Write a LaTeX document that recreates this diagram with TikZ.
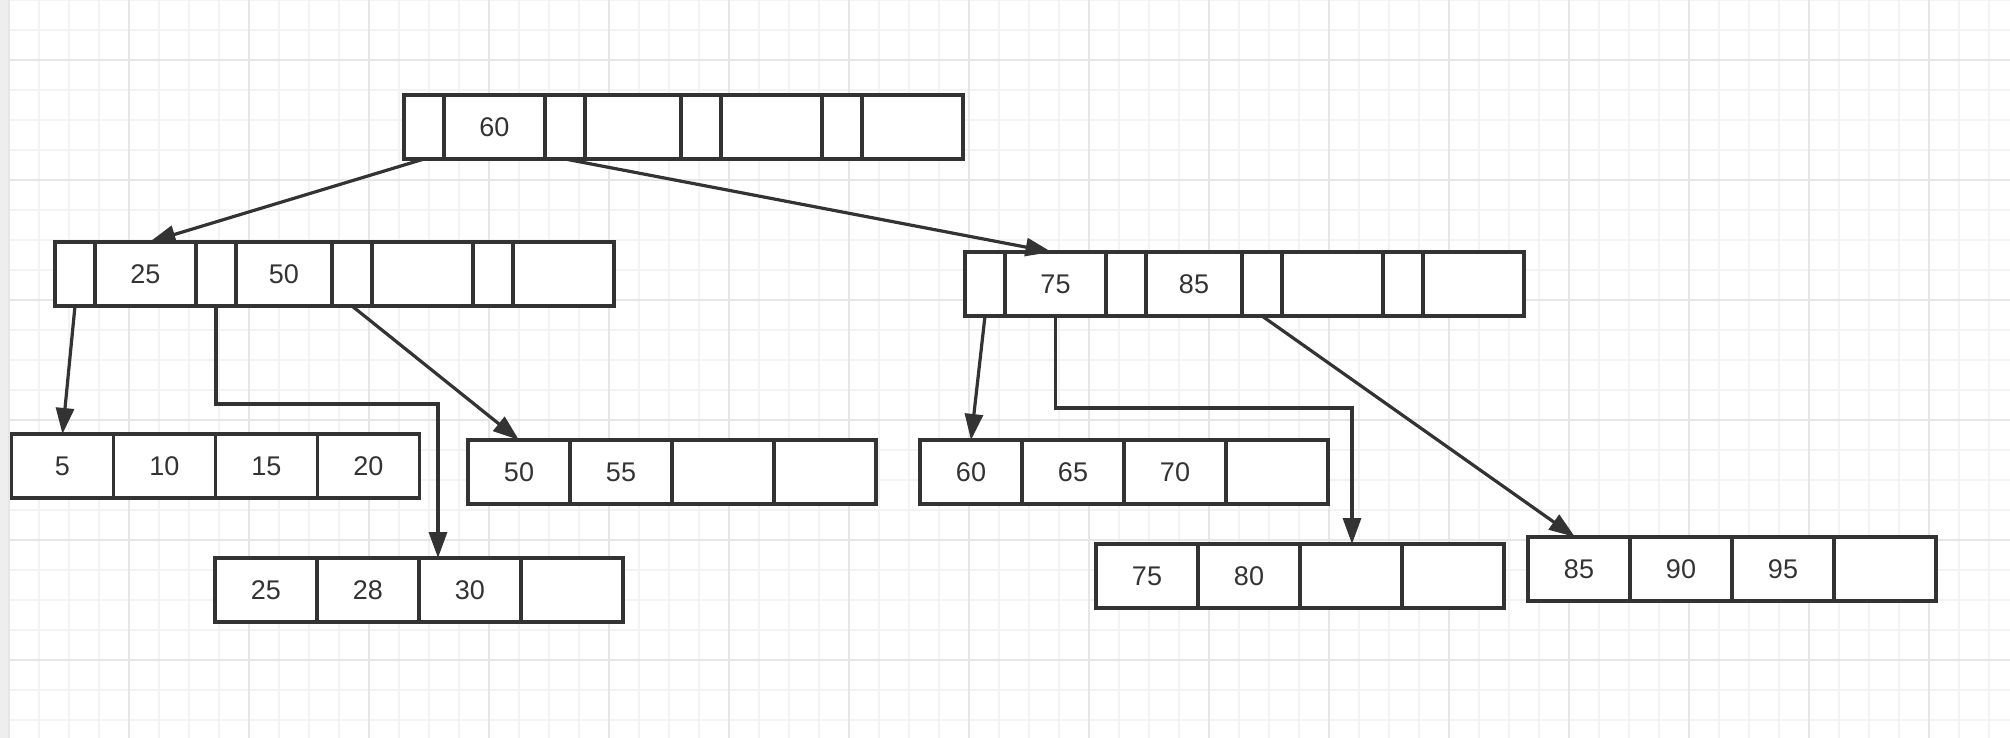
\documentclass[tikz,border=0pt]{standalone}
\usepackage{fontspec}
\setmainfont{Liberation Sans}
\usetikzlibrary{arrows.meta,positioning}

\definecolor{ink}{HTML}{333333}
\definecolor{gridminor}{HTML}{F3F3F3}
\definecolor{gridmajor}{HTML}{E6E6E6}
\definecolor{strip}{HTML}{EEEEEE}

\begin{document}
\begin{tikzpicture}[x=0.5pt,y=-0.5pt]

	\tikzstyle{cell}=[rectangle,draw=ink,line width=1.6pt,fill=white,
		minimum height=32pt,inner sep=0pt,outer sep=0pt,
		text=ink,font=\fontsize{13.5}{15}\selectfont]
	\tikzstyle{ptr}=[cell,minimum width=20pt]
	\tikzstyle{key}=[cell,minimum width=50.5pt]
	\tikzstyle{narrowkey}=[cell,minimum width=48pt]
	\tikzstyle{leaf}=[cell,minimum width=51pt]
	\tikzstyle{arrow}=[-{Triangle[length=13pt,width=9pt]},line width=1.6pt,draw=ink]

	\useasboundingbox (0,0) rectangle (2010,738);
	\fill[white] (0,0) rectangle (2010,738);
	\fill[strip] (0,0) rectangle (8,738);
	\foreach \x in {9,39,...,2009} \draw[gridminor,line width=1pt] (\x,0) -- (\x,738);
	\foreach \y in {0,30,...,737} \draw[gridminor,line width=1pt] (9,\y) -- (2010,\y);
	\foreach \x in {9,129,...,2009} \draw[gridmajor,line width=1pt] (\x,0) -- (\x,738);
	\foreach \y in {60,180,...,737} \draw[gridmajor,line width=1pt] (9,\y) -- (2010,\y);

	\node[ptr] (root1) at (424,127) {};
	\node[key,right=0pt of root1] (root2) {60};
	\node[ptr,right=0pt of root2] (root3) {};
	\node[narrowkey,right=0pt of root3] (root4) {};
	\node[ptr,right=0pt of root4] (root5) {};
	\node[key,right=0pt of root5] (root6) {};
	\node[ptr,right=0pt of root6] (root7) {};
	\node[key,right=0pt of root7] (root8) {};

	\node[ptr] (lft1) at (75,274) {};
	\node[key,right=0pt of lft1] (lft2) {25};
	\node[ptr,right=0pt of lft2] (lft3) {};
	\node[narrowkey,right=0pt of lft3] (lft4) {50};
	\node[ptr,right=0pt of lft4] (lft5) {};
	\node[key,right=0pt of lft5] (lft6) {};
	\node[ptr,right=0pt of lft6] (lft7) {};
	\node[key,right=0pt of lft7] (lft8) {};

	\node[ptr] (rgt1) at (985,284) {};
	\node[key,right=0pt of rgt1] (rgt2) {75};
	\node[ptr,right=0pt of rgt2] (rgt3) {};
	\node[narrowkey,right=0pt of rgt3] (rgt4) {85};
	\node[ptr,right=0pt of rgt4] (rgt5) {};
	\node[key,right=0pt of rgt5] (rgt6) {};
	\node[ptr,right=0pt of rgt6] (rgt7) {};
	\node[key,right=0pt of rgt7] (rgt8) {};

	\node[leaf] (leafa1) at (62.5,466) {5};
	\node[leaf,right=0pt of leafa1] (leafa2) {10};
	\node[leaf,right=0pt of leafa2] (leafa3) {15};
	\node[leaf,right=0pt of leafa3] (leafa4) {20};

	\node[leaf] (leafb1) at (519,472) {50};
	\node[leaf,right=0pt of leafb1] (leafb2) {55};
	\node[leaf,right=0pt of leafb2] (leafb3) {};
	\node[leaf,right=0pt of leafb3] (leafb4) {};

	\node[leaf] (leafc1) at (266,590) {25};
	\node[leaf,right=0pt of leafc1] (leafc2) {28};
	\node[leaf,right=0pt of leafc2] (leafc3) {30};
	\node[leaf,right=0pt of leafc3] (leafc4) {};

	\node[leaf] (leafd1) at (971,472) {60};
	\node[leaf,right=0pt of leafd1] (leafd2) {65};
	\node[leaf,right=0pt of leafd2] (leafd3) {70};
	\node[leaf,right=0pt of leafd3] (leafd4) {};

	\node[leaf] (leafe1) at (1147,576) {75};
	\node[leaf,right=0pt of leafe1] (leafe2) {80};
	\node[leaf,right=0pt of leafe2] (leafe3) {};
	\node[leaf,right=0pt of leafe3] (leafe4) {};

	\node[leaf] (leaff1) at (1579,569) {85};
	\node[leaf,right=0pt of leaff1] (leaff2) {90};
	\node[leaf,right=0pt of leaff2] (leaff3) {95};
	\node[leaf,right=0pt of leaff3] (leaff4) {};

	\coordinate (elbowl) at (438,404);
	\coordinate (elbowr) at (1352,408);

	\draw[arrow] (root1.south) -- ([xshift=2pt]lft2.north);
	\draw[arrow] (root3.south) -- ([xshift=-2pt]rgt2.north);
	\draw[arrow] (lft1.south) -- (leafa1.north);
	\draw[arrow] (lft3.south) |- (elbowl) -- (elbowl|-leafc3.north);
	\draw[arrow] (lft5.south) -- (leafb1.north);
	\draw[arrow] (rgt1.south) -- (leafd1.north);
	\draw[arrow] (rgt2.south) |- (elbowr) -- (elbowr|-leafe3.north);
	\draw[arrow] (rgt5.south) -- ([xshift=-2pt]leaff1.north);

\end{tikzpicture}
\end{document}
